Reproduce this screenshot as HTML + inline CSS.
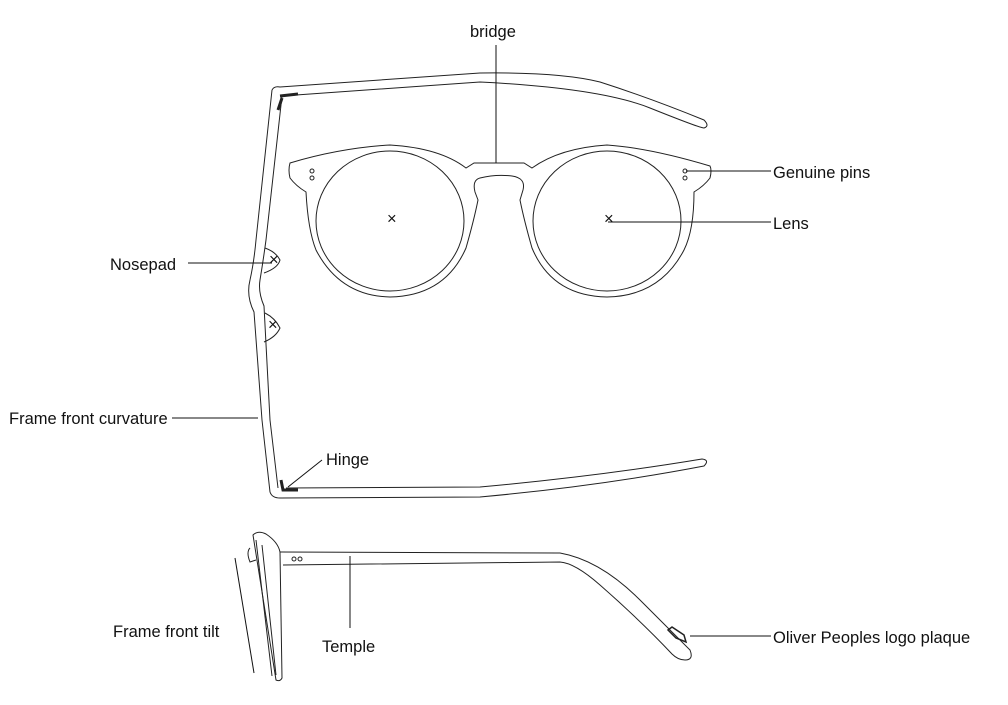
<!DOCTYPE html>
<html><head><meta charset="utf-8"><style>
html,body{margin:0;padding:0;background:#fff;}
svg{display:block;}
text{font-family:"Liberation Sans",sans-serif;font-size:16.5px;fill:#111;}
</style></head><body>
<svg width="1008" height="705" viewBox="0 0 1008 705" xmlns="http://www.w3.org/2000/svg">
<g fill="none" stroke="#222" stroke-width="1">
<path d="M272,90 Q274,86 280,87 L480,73 Q560,72 600,82 Q650,98 704,120 Q710,126 704,128 Q700,128 650,108 Q600,88 480,82 L282,96"/>
<path d="M272,90 L256,240 Q254,262 250,280 Q246,296 254,312 L262,420 L270,492 Q272,498 280,498 L480,497 Q600,486 704,466 Q710,460 702,459 Q600,476 480,487 L286,488"/>
<path d="M282,96 L266,240 Q263,262 260,280 Q258,292 264,306 L270,420 L278,488"/>
<path d="M265,248 Q276,252 280,260 Q278,268 264,273"/>
<path d="M265,313 Q275,318 280,328 Q276,337 264,342"/>
<path d="M280,96 L298,94 M282,98 L278,110" stroke-width="3"/>
<path d="M281,480 L283,490 L298,490" stroke-width="3"/>
<path d="M290,163 Q288,170 290,178 Q296,186 306,192 Q308,230 316,250 Q340,296 390,297 Q445,296 466,248 Q474,220 478,200 L475,192 Q472,180 480,178 Q496,174 512,176 Q526,178 523,190 L520,200 Q524,220 532,248 Q552,296 607,297 Q660,296 684,250 Q694,230 694,192 Q704,186 710,178 Q712,170 710,166 Q650,148 607,145 Q560,148 532,168 L524,163 L474,163 L466,168 Q440,148 390,145 Q340,148 290,163 Z"/>
<ellipse cx="390" cy="221" rx="74" ry="70"/>
<ellipse cx="607" cy="221" rx="74" ry="70"/>
<circle cx="312" cy="171" r="2"/><circle cx="312" cy="178" r="2"/>
<circle cx="685" cy="171" r="2"/><circle cx="685" cy="178" r="2"/>
<path d="M253,535 Q258,530 266,534 Q278,542 280,552 L282,678 Q280,682 276,680 Z"/>
<path d="M256,540 L272,676 M262,545 L276,675"/>
<path d="M250,548 Q246,552 250,562 L256,560"/>
<path d="M280,552 L560,553 Q600,560 640,600 Q680,640 690,650 Q694,660 685,660 Q678,660 672,654 Q640,620 600,585 Q575,563 560,562 L283,565"/>
<circle cx="294" cy="559" r="2"/><circle cx="300" cy="559" r="2"/>
<path d="M672,627 L684,635 L686,642 L676,638 L668,630 Z" stroke-width="1.5"/>
</g>
<g stroke="#111" stroke-width="1" fill="none">
<line x1="496" y1="45" x2="496" y2="163"/>
<line x1="686" y1="171" x2="771" y2="171"/>
<line x1="608" y1="222" x2="771" y2="222"/>
<line x1="188" y1="263" x2="272" y2="263"/>
<line x1="172" y1="418" x2="258" y2="418"/>
<line x1="322" y1="460" x2="288" y2="487"/>
<line x1="350" y1="556" x2="350" y2="628"/>
<line x1="690" y1="636" x2="771" y2="636"/>
<line x1="235" y1="558" x2="254" y2="673"/>
</g>
<g fill="#333"><text x="387" y="224" font-size="8">×</text><text x="604" y="224" font-size="8">×</text><text x="269" y="265" font-size="8">×</text><text x="268" y="330" font-size="8">×</text></g>
<text x="470" y="37">bridge</text>
<text x="773" y="178">Genuine pins</text>
<text x="773" y="229">Lens</text>
<text x="110" y="270">Nosepad</text>
<text x="9" y="424">Frame front curvature</text>
<text x="326" y="465">Hinge</text>
<text x="113" y="637">Frame front tilt</text>
<text x="322" y="652">Temple</text>
<text x="773" y="643">Oliver Peoples logo plaque</text>
</svg>
</body></html>
